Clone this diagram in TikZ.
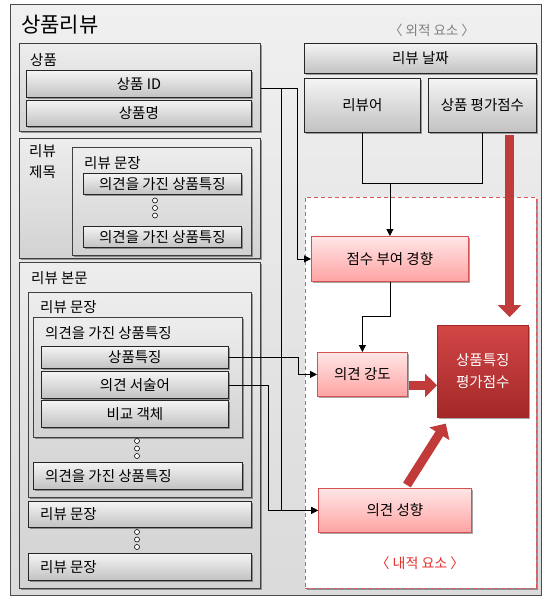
\documentclass[tikz,border=0pt]{standalone}
\usepackage{fontspec}
\setmainfont{Noto Sans CJK KR}
\usetikzlibrary{arrows.meta,shadows,calc}
\definecolor{bgc}{HTML}{E6E6E6}
\definecolor{grpT}{HTML}{EDEDED}
\definecolor{grpB}{HTML}{D2D2D2}
\definecolor{btnT}{HTML}{F4F4F4}
\definecolor{btnB}{HTML}{C2C2C2}
\definecolor{pinkT}{HTML}{FFE6E6}
\definecolor{pinkB}{HTML}{FFA3A3}
\definecolor{pinkD}{HTML}{D65252}
\definecolor{darkT}{HTML}{D24646}
\definecolor{darkB}{HTML}{A32828}
\definecolor{arrred}{HTML}{C23B3B}
\definecolor{dashred}{HTML}{E05555}
\definecolor{txtred}{HTML}{E83030}
\newcommand\lblfont{\fontsize{14.5}{17}\selectfont}
\tikzset{
  shad/.style={drop shadow={shadow xshift=1.2pt, shadow yshift=-1.2pt, opacity=0.35, fill=black}},
  bx/.style 2 args={anchor=north west, minimum width=#1pt, minimum height=#2pt, inner sep=0pt},
  grp/.style={draw=black!75, line width=0.8pt, top color=grpT, bottom color=grpB, shad},
  btn/.style={draw=black!85, line width=0.8pt, top color=btnT, bottom color=btnB, font=\lblfont, shad},
  pinkbox/.style={draw=pinkD, line width=0.8pt, top color=pinkT, bottom color=pinkB, font=\lblfont, shad},
  darkbox/.style={draw=darkB, line width=0.6pt, top color=darkT, bottom color=darkB, text=white, shad},
  txt/.style={inner sep=0pt, font=\lblfont, anchor=west},
  conn/.style={draw=black, line width=0.8pt},
  arr/.style={conn, -{Triangle[length=7pt,width=7pt]}},
  bigarr/.style={draw=arrred, line width=9pt, -{Triangle[length=12pt,width=23pt]}},
  dotc/.style={circle, draw=black, line width=0.6pt, fill=white, inner sep=0pt, minimum size=5pt},
}
\begin{document}
\begin{tikzpicture}[x=1pt,y=-1pt]
\useasboundingbox (0,0) rectangle (543,598);
% frame
\path[draw=black!70, line width=0.8pt, top color=bgc!60!white, bottom color=bgc!95!black] (10,4) rectangle (541,595);
\node[anchor=west, inner sep=0pt, font=\fontsize{21}{24}\selectfont] (ttl) at (21,25) {상품리뷰};
\node[inner sep=0pt, font=\fontsize{13.5}{16}\selectfont, text=black!50] (ext) at (432,30) {〈 외적 요소 〉};

% inner (dashed) region
\node[bx={231}{391}, draw=dashred, dash pattern=on 4pt off 3pt, line width=0.9pt, fill=white, shad] (inner) at (305,197) {};
\node[inner sep=0pt, font=\fontsize{14}{16}\selectfont, text=txtred] (intl) at (420,563) {〈 내적 요소 〉};

% left column: 상품
\node[grp, bx={241}{88}] (prod) at (19,43) {};
\node[txt] (prodl) at (30,60) {상품};
\node[btn, bx={225}{27}] (pid) at (26,70) {상품 ID};
\node[btn, bx={225}{26}] (pname) at (26,100) {상품명};

% 리뷰 제목
\node[grp, bx={241}{120}] (rtitle) at (19,138) {};
\node[txt, anchor=north west, align=left, font=\fontsize{14.5}{21}\selectfont] (rtitlel) at (29,144) {리뷰\\제목};
\node[grp, bx={179}{108}] (tsent) at (72,147) {};
\node[txt] (tsentl) at (84,163) {리뷰 문장};
\node[btn, bx={158}{21}] (tf1) at (83,173) {의견을 가진 상품특징};
\node[dotc] (td1) at (155,200.5) {};
\node[dotc] (td2) at (155,208) {};
\node[dotc] (td3) at (155,215.5) {};
\node[btn, bx={158}{21}] (tf2) at (83,226) {의견을 가진 상품특징};

% 리뷰 본문
\node[grp, bx={241}{326}] (body) at (19,262) {};
\node[txt] (bodyl) at (31,278) {리뷰 본문};
\node[grp, bx={223}{205}] (bsent) at (28,292) {};
\node[txt] (bsentl) at (40,307) {리뷰 문장};
\node[grp, bx={209}{120}] (ofeat) at (33,317) {};
\node[txt] (ofeatl) at (45,333) {의견을 가진 상품특징};
\node[btn, bx={187}{22}] (feat) at (41,346) {상품특징};
\node[btn, bx={187}{27}] (opw) at (41,371) {의견 서술어};
\node[btn, bx={187}{27}] (cmp) at (41,400) {비교 객체};
\node[dotc] (bd1) at (137,441) {};
\node[dotc] (bd2) at (137,448.5) {};
\node[dotc] (bd3) at (137,456) {};
\node[btn, bx={209}{27}] (ofeat2) at (33,462) {};
\node[txt] (ofeat2l) at ([xshift=12pt]ofeat2.west) {의견을 가진 상품특징};
\node[btn, bx={223}{26}] (sent2) at (28,501) {};
\node[txt] (sent2l) at ([xshift=12pt]sent2.west) {리뷰 문장};
\node[dotc] (sd1) at (137,532) {};
\node[dotc] (sd2) at (137,539.5) {};
\node[dotc] (sd3) at (137,547) {};
\node[btn, bx={223}{27}] (sent3) at (28,553) {};
\node[txt] (sent3l) at ([xshift=12pt]sent3.west) {리뷰 문장};

% right column (external)
\node[btn, bx={232}{30}] (date) at (304,43) {리뷰 날짜};
\node[btn, bx={116}{54}] (rev) at (304,78) {리뷰어};
\node[btn, bx={108}{54}] (pscore) at (428,78) {상품 평가점수};

% internal
\node[pinkbox, bx={157}{45}] (tend) at (311,236) {점수 부여 경향};
\node[pinkbox, bx={90}{44}] (inten) at (317,352) {의견 강도};
\node[pinkbox, bx={153}{44}] (orient) at (318,488) {의견 성향};
\node[darkbox, bx={91}{92}] (fscore) at (437,325) {};
\node[inner sep=0pt, text=white, align=center, font=\fontsize{14.5}{22}\selectfont] (fscorel) at (fscore.center) {상품특징\\평가점수};

% thin connectors
\coordinate (pidr) at ([yshift=-4pt]pid.east);
\coordinate (s1) at (prod.east |- pidr);
\draw[arr] (s1) -| ($(tend.west)+(-14,0)$) -- (tend.west);
\coordinate (j1) at ($(s1)+(21,0)$);
\draw[arr] (j1) |- (orient.west);
\coordinate (rj) at ($(rev.south)+(0,51)$);
\draw[conn] (rev.south) -- (rj) -| (pscore.south);
\draw[arr] (tend.north |- rj) -- (tend.north);
\draw[arr] (tend.south) -- ++(0,35) -| (inten.north);
\draw[arr] (feat.east) -| ($(inten.west)+(-19,0)$) -- (inten.west);
\draw[arr] (opw.east) -| ($(orient.west)+(-50,0)$) -- (orient.west);

% thick red arrows
\coordinate (a1s) at ($(pscore.south east)!0.25!(pscore.south west)+(0,2)$);
\coordinate (a1e) at ($(a1s |- fscore.north)+(0,-8)$);
\draw[bigarr] (a1s) -- (a1e);
\draw[bigarr] ($(inten.east)+(1,11)$) -- ($(fscore.west |- inten.east)+(0,11)$);
\draw[bigarr] ($(orient.north)+(12,-3)$) -- ($(fscore.south)+(-37,6)$);
\end{tikzpicture}
\end{document}
